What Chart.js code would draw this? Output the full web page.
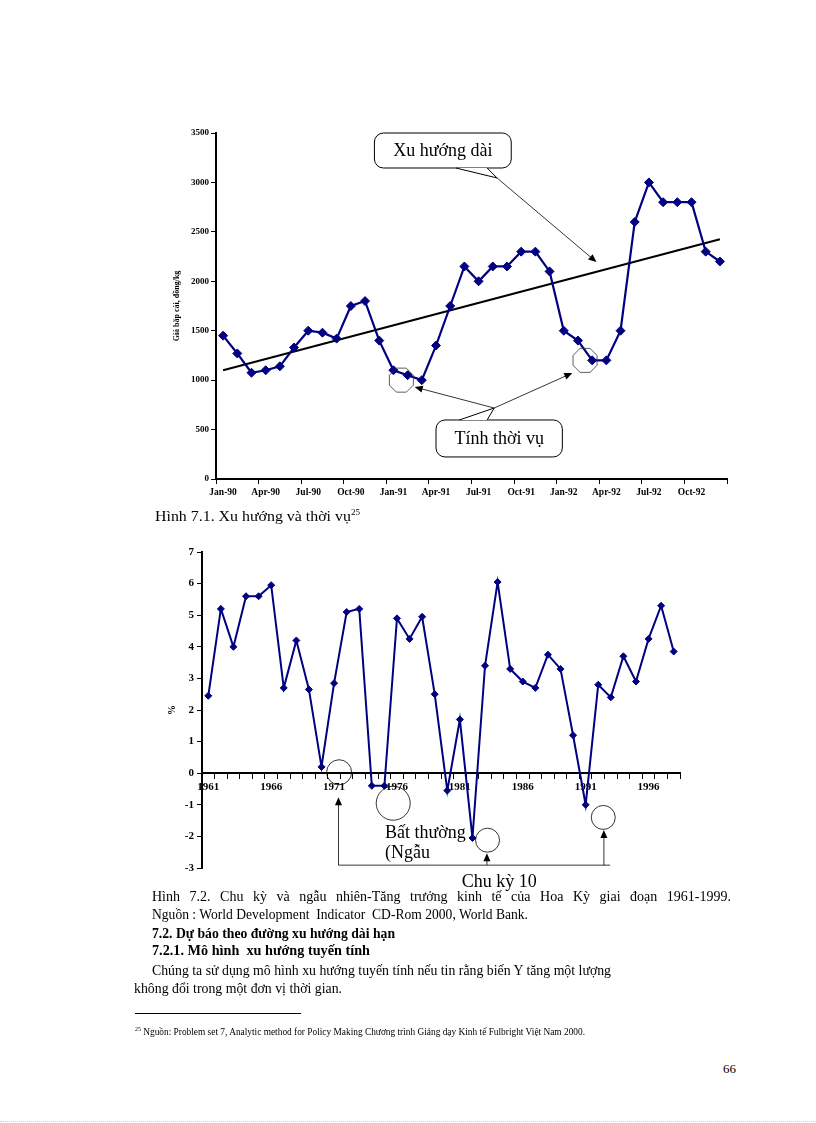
<!DOCTYPE html>
<html>
<head>
<meta charset="utf-8">
<script src="https://cdn.jsdelivr.net/npm/chart.js@4.4.1/dist/chart.umd.min.js"></script>
<style>
body{margin:0;background:#fff;width:816px;height:1123px;position:relative;overflow:hidden;font-family:"Liberation Serif",serif;color:#000}
.wrap{position:absolute}
.ln{position:absolute;white-space:nowrap;font-size:14px;line-height:16px;transform-origin:0 0}
.b{font-weight:bold}
sup{font-size:8px;line-height:0}
</style>
</head>
<body>
<div class="wrap" style="left:150px;top:110px"><canvas id="c1" width="600" height="400"></canvas></div>
<div class="ln" data-w="205" style="left:155px;top:509px">Hình 7.1. Xu hướng và thời vụ<sup>25</sup></div>
<div class="wrap" style="left:150px;top:540px"><canvas id="c2" width="560" height="360"></canvas></div>

<div class="ln" style="left:152px;top:889px;width:579px;text-align:justify;text-align-last:justify">Hình 7.2. Chu kỳ và ngẫu nhiên-Tăng trưởng kinh tế của Hoa Kỳ giai đoạn 1961-1999.</div>
<div class="ln" data-w="376" style="left:152px;top:907px">Nguồn : World Development&nbsp; Indicator&nbsp; CD-Rom 2000, World Bank.</div>
<div class="ln b" data-w="243" style="left:152px;top:926px">7.2. Dự báo theo đường xu hướng dài hạn</div>
<div class="ln b" data-w="218" style="left:152px;top:943px">7.2.1. Mô hình&nbsp; xu hướng tuyến tính</div>
<div class="ln" data-w="459" style="left:152px;top:963px">Chúng ta sử dụng mô hình xu hướng tuyến tính nếu tin rằng biến Y tăng một lượng</div>
<div class="ln" data-w="208" style="left:134px;top:981px">không đổi trong một đơn vị thời gian.</div>
<div style="position:absolute;left:135px;top:1013px;width:166px;border-top:1px solid #000"></div>
<div class="ln" data-w="450" style="left:135px;top:1027px;font-size:9.5px;line-height:11px"><sup style="font-size:6px">25</sup> Nguồn: Problem set 7, Analytic method for Policy Making Chương trình Giảng dạy Kinh tế Fulbright Việt Nam 2000.</div>
<div class="ln" style="left:723px;top:1061px;font-size:13px">66</div>
<div style="position:absolute;left:0;top:1121px;width:816px;border-top:1px dotted #e4c8d0"></div>

<script>
// Hinh 7.1 - gia bap cai (dong/kg), Jan-90 .. Dec-92
const months = ['Jan-90','Feb-90','Mar-90','Apr-90','May-90','Jun-90','Jul-90','Aug-90','Sep-90','Oct-90','Nov-90','Dec-90',
                'Jan-91','Feb-91','Mar-91','Apr-91','May-91','Jun-91','Jul-91','Aug-91','Sep-91','Oct-91','Nov-91','Dec-91',
                'Jan-92','Feb-92','Mar-92','Apr-92','May-92','Jun-92','Jul-92','Aug-92','Sep-92','Oct-92','Nov-92','Dec-92'];
const priceValues = [1450,1270,1075,1100,1140,1330,1500,1480,1420,1750,1800,1400,
                     1100,1050,1000,1350,1750,2150,2000,2150,2150,2300,2300,2100,
                     1500,1400,1200,1200,1500,2600,3000,2800,2800,2800,2300,2200];
const trendEnds = [1100, 2425];

// Hinh 7.2 - tang truong kinh te Hoa Ky (%)
const years = ['1961','1962','1963','1964','1965','1966','1967','1968','1969','1970',
               '1971','1972','1973','1974','1975','1976','1977','1978','1979','1980',
               '1981','1982','1983','1984','1985','1986','1987','1988','1989','1990',
               '1991','1992','1993','1994','1995','1996','1997','1998'];
const growthValues = [2.45,5.2,4.0,5.6,5.6,5.95,2.7,4.2,2.65,0.2,
                      2.85,5.1,5.2,-0.4,-0.4,4.9,4.25,4.95,2.5,-0.55,
                      1.7,-2.05,3.4,6.05,3.3,2.9,2.7,3.75,3.3,1.2,
                      -1.0,2.8,2.4,3.7,2.9,4.25,5.3,3.85];

const NAVY = '#000080';
const SERIF = '"Liberation Serif", serif';

// fit plain lines to the measured width of the reference
document.querySelectorAll('.ln[data-w]').forEach(el => {
    const w = +el.dataset.w;
    const nat = el.getBoundingClientRect().width;
    el.style.transform = 'scaleX(' + (w / nat) + ')';
});

function arrow(ctx, x1, y1, x2, y2){
    const a = Math.atan2(y2 - y1, x2 - x1);
    ctx.beginPath();
    ctx.moveTo(x1, y1);
    ctx.lineTo(x2 - 6*Math.cos(a), y2 - 6*Math.sin(a));
    ctx.stroke();
    ctx.beginPath();
    ctx.moveTo(x2, y2);
    ctx.lineTo(x2 - 8*Math.cos(a) + 3.5*Math.sin(a), y2 - 8*Math.sin(a) - 3.5*Math.cos(a));
    ctx.lineTo(x2 - 8*Math.cos(a) - 3.5*Math.sin(a), y2 - 8*Math.sin(a) + 3.5*Math.cos(a));
    ctx.closePath();
    ctx.fill();
}

function callout(ctx, x1, y1, x2, y2, tailA, tailB, tip, text){
    ctx.save();
    ctx.fillStyle = '#fff';
    ctx.strokeStyle = '#000';
    ctx.lineWidth = 1;
    ctx.beginPath();
    ctx.roundRect(x1, y1, x2 - x1, y2 - y1, 9);
    ctx.fill();
    ctx.stroke();
    const edge = tip[1] > y2 ? y2 : y1;
    ctx.beginPath();
    ctx.moveTo(tailA, edge);
    ctx.lineTo(tip[0], tip[1]);
    ctx.lineTo(tailB, edge);
    ctx.closePath();
    ctx.fill();
    ctx.beginPath();
    ctx.moveTo(tailA, edge);
    ctx.lineTo(tip[0], tip[1]);
    ctx.lineTo(tailB, edge);
    ctx.stroke();
    ctx.fillStyle = '#000';
    ctx.font = '18px ' + SERIF;
    ctx.textAlign = 'center';
    ctx.textBaseline = 'middle';
    ctx.fillText(text, (x1 + x2)/2, (y1 + y2)/2 + 1);
    ctx.restore();
}

function octagon(ctx, cx, cy, r){
    ctx.beginPath();
    for(let k=0; k<8; k++){
        const a = Math.PI/8 + k*Math.PI/4;
        const px = cx + r*Math.cos(a), py = cy + r*Math.sin(a);
        if(k === 0) ctx.moveTo(px, py); else ctx.lineTo(px, py);
    }
    ctx.closePath();
    ctx.stroke();
}

function yTitle(chart, text, x, font){
    const {ctx, chartArea} = chart;
    ctx.save();
    ctx.translate(x, (chartArea.top + chartArea.bottom)/2);
    ctx.rotate(-Math.PI/2);
    ctx.font = font;
    ctx.fillStyle = '#000';
    ctx.textAlign = 'center';
    ctx.textBaseline = 'middle';
    ctx.fillText(text, 0, 0);
    ctx.restore();
}

const notes1 = {
    id: 'notes1',
    afterDraw(chart){
        const {ctx, scales: {x, y}} = chart;
        const X = i => x.getPixelForValue(i);
        const Y = v => y.getPixelForValue(v);
        yTitle(chart, 'Giá bắp cải, đồng/kg', 27, 'bold 8px ' + SERIF);
        ctx.save();
        ctx.fillStyle = '#000';
        ctx.lineWidth = 0.8;
        // octagons round the seasonal lows
        ctx.strokeStyle = '#333';
        octagon(ctx, X(12.56), Y(1000), 13);
        octagon(ctx, X(25.5), Y(1200), 13);
        ctx.strokeStyle = '#000';
        // arrows
        arrow(ctx, X(19.3), Y(3045), X(26.3), Y(2195));
        arrow(ctx, X(19.1), Y(718), X(13.5), Y(930));
        arrow(ctx, X(19.1), Y(718), X(24.6), Y(1072));
        ctx.restore();
        callout(ctx, X(10.66), Y(3500), X(20.3), Y(3146), X(16.4), X(18.6), [X(19.3), Y(3045)], 'Xu hướng dài');
        callout(ctx, X(15.0), Y(597), X(23.9), Y(223), X(16.65), X(18.6), [X(19.1), Y(718)], 'Tính thời vụ');
    }
};

const notes2 = {
    id: 'notes2',
    afterDraw(chart){
        const {ctx, scales: {x, y}} = chart;
        const X = i => x.getPixelForValue(i);
        const Y = v => y.getPixelForValue(v);
        yTitle(chart, '%', 22, 'bold 10px ' + SERIF);
        ctx.save();
        ctx.strokeStyle = '#000';
        ctx.fillStyle = '#000';
        ctx.lineWidth = 0.8;
        [[10.4, 0.03, 12.5], [14.7, -0.95, 17], [22.2, -2.12, 12], [31.4, -1.4, 12]].forEach(c => {
            ctx.beginPath();
            ctx.arc(X(c[0]), Y(c[1]), c[2], 0, Math.PI*2);
            ctx.stroke();
        });
        ctx.beginPath();
        ctx.moveTo(X(10.35), Y(-2.91));
        ctx.lineTo(X(31.95), Y(-2.91));
        ctx.stroke();
        arrow(ctx, X(10.35), Y(-2.91), X(10.35), Y(-0.76));
        arrow(ctx, X(22.15), Y(-2.91), X(22.15), Y(-2.53));
        arrow(ctx, X(31.45), Y(-2.91), X(31.45), Y(-1.8));
        ctx.font = '18px ' + SERIF;
        ctx.textBaseline = 'alphabetic';
        ctx.fillText('Bất thường', X(14.05), Y(-2.06));
        ctx.fillText('(Ngẫu', X(14.05), Y(-2.69));
        ctx.fillText('Chu kỳ 10', X(20.15), Y(-3.61));
        ctx.restore();
    }
};

const tickFont1 = {family: SERIF, size: 9, weight: 'bold'};
const tickFont1x = {family: SERIF, size: 9.5, weight: 'bold'};
const tickFont2 = {family: SERIF, size: 11, weight: 'bold'};

new Chart(document.getElementById('c1'), {
    type: 'line',
    data: {
        labels: months,
        datasets: [{
            label: 'Giá',
            data: priceValues,
            borderColor: NAVY,
            backgroundColor: NAVY,
            borderWidth: 2.2,
            pointStyle: 'rectRot',
            pointRadius: 4.5,
            pointBorderWidth: 1,
            tension: 0
        }, {
            label: 'Xu hướng',
            data: months.map((m, i) => i === 0 ? trendEnds[0] : (i === months.length - 1 ? trendEnds[1] : null)),
            spanGaps: true,
            borderColor: '#000',
            borderWidth: 2,
            pointRadius: 0
        }]
    },
    options: {
        responsive: false,
        animation: false,
        layout: {padding: {left: 0, top: 23, right: 23, bottom: 0}},
        plugins: {legend: {display: false}, tooltip: {enabled: false}},
        scales: {
            x: {
                offset: true,
                afterFit: s => { s.height = 31; },
                grid: {
                    offset: true,
                    drawOnChartArea: false,
                    tickLength: 5,
                    color: c => (c.index === undefined || c.index % 3 === 0) ? '#000' : 'rgba(0,0,0,0)'
                },
                border: {display: true, color: '#000', width: 2},
                ticks: {
                    autoSkip: false, maxRotation: 0, padding: 3,
                    color: '#000', font: tickFont1x,
                    callback: function(v, i){ return i % 3 === 0 ? this.getLabelForValue(v) : ''; }
                }
            },
            y: {
                min: 0, max: 3500,
                afterFit: s => { s.width = 66; },
                grid: {drawOnChartArea: false, tickLength: 5, color: '#000'},
                border: {display: true, color: '#000', width: 2},
                ticks: {stepSize: 500, padding: 2, color: '#000', font: tickFont1, callback: v => String(v)}
            }
        }
    },
    plugins: [notes1]
});

new Chart(document.getElementById('c2'), {
    type: 'line',
    data: {
        labels: years,
        datasets: [{
            label: '%',
            data: growthValues,
            borderColor: NAVY,
            backgroundColor: NAVY,
            borderWidth: 2,
            pointStyle: 'rectRot',
            pointRadius: 3.5,
            pointBorderWidth: 1,
            tension: 0
        }]
    },
    options: {
        responsive: false,
        animation: false,
        layout: {padding: {left: 0, top: 12, right: 30, bottom: 32}},
        plugins: {legend: {display: false}, tooltip: {enabled: false}},
        scales: {
            x: {
                position: {y: 0},
                offset: true,
                grid: {offset: true, drawOnChartArea: false, tickLength: 5, color: '#000'},
                border: {display: true, color: '#000', width: 2},
                ticks: {
                    autoSkip: false, maxRotation: 0, padding: 2,
                    color: '#000', font: tickFont2,
                    callback: function(v, i){ return i % 5 === 0 ? this.getLabelForValue(v) : ''; }
                }
            },
            y: {
                min: -3, max: 7,
                afterFit: s => { s.width = 52; },
                grid: {drawOnChartArea: false, tickLength: 5, color: '#000'},
                border: {display: true, color: '#000', width: 2},
                ticks: {stepSize: 1, padding: 3, color: '#000', font: tickFont2, callback: v => String(v)}
            }
        }
    },
    plugins: [notes2]
});
</script>
</body>
</html>
